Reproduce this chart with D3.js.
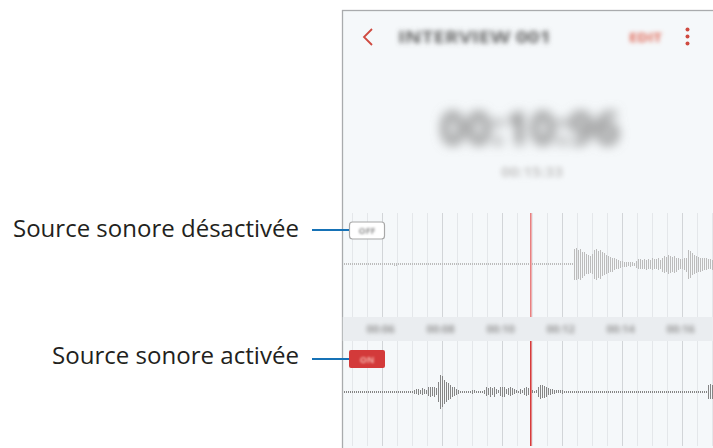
<!DOCTYPE html>
<meta charset="utf-8">
<style>
body { margin: 0; background: #fff; }
svg { display: block; font-family: "Open Sans", sans-serif; }
.callout { font-size: 24px; fill: #231f20; }
.grid line, .wave rect { shape-rendering: crispEdges; }
</style>
<body>
<script src="https://d3js.org/d3.v7.min.js"></script>
<script>
// screen texts (blurred in the original)
var title = "INTERVIEW 001";
var timer = "00:10:96";
var subTimer = "00:15:33";
var timeTicks = [6, 8, 10, 12, 14, 16];
var timeLabels = ["00:06", "00:08", "00:10", "00:12", "00:14", "00:16"];
var playhead = 10.97;
var callouts = ["Source sonore désactivée", "Source sonore activée"];

// waveform levels (0-100), one sample per 1/15 s
var offWave = [
  5,5,5,5,5,5,5,5,5,5, 5,5,5,5,5,5,5,5,5,5, 5,5,5,5,5,10,10,5,5,5,
  5,5,5,5,5,5,5,5,5,5, 5,5,5,5,5,5,5,5,5,5, 5,5,5,5,5,5,5,5,5,5,
  5,5,5,5,5,5,5,5,5,5, 5,5,5,5,5,5,5,5,5,5, 5,5,5,5,5,5,5,5,5,5,
  5,5,5,5,5,5,5,5,5,5, 5,5,5,5,5,5,5,5,5,5, 5,5,5,5,5,
  90,95,85,90,75,70,60,55,50,60, 85,90,80,85,70,65,55,50,45,40,
  35,30,25,20,18,15,15,12,15,12, 10,20,30,30,25,30,28,30,25,35,
  30,30,35,25,40,50,45,55,50,45, 50,40,35,30,30,35,40,85,80,65,
  55,50,45,40,38,35,35,30,30,28
];
var onWave = [
  5,5,5,5,5,5,5,5,5,5, 5,5,5,5,5,5,5,5,5,5, 5,5,5,5,5,5,5,5,5,5,
  5,5,5,5,5,12,15,18,12,20, 15,12,25,30,25,30,20,60,100,90,
  70,60,50,40,30,25,18,12,6,6, 6,6,6,6,12,8,6,6,6,6,
  12,25,20,30,22,28,15,8,25,30, 28,15,20,25,20,15,8,6,15,8,
  20,25,20,15,8,6,10,30,40,38, 35,28,22,18,15,12,10,10,8,12,
  5,5,5,5,5,5,5,5,5,5, 5,5,5,5,5,5,5,5,5,5, 5,5,5,5,5,5,5,5,5,5,
  5,5,5,5,5,5,5,5,5,5, 5,5,5,5,5,5,5,5,5,5, 5,5,5,5,5,5,5,5,5,5,
  5,5,5,5,5,5,5,5,5,5, 5,5,40,45,40
];

var width = 713, height = 448;
var panel = {left: 342.5, top: 10.5};

var svg = d3.select("body").append("svg")
  .attr("width", width)
  .attr("height", height);

var defs = svg.append("defs");
[["blur1", 1.2], ["blur2", 2], ["blur3", 2.4], ["blur5", 5.5]].forEach(function (b) {
  defs.append("filter").attr("id", b[0])
    .attr("x", "-20%").attr("y", "-60%").attr("width", "140%").attr("height", "220%")
    .append("feGaussianBlur").attr("stdDeviation", b[1]);
});
defs.append("clipPath").attr("id", "clip")
  .append("rect").attr("x", panel.left).attr("y", panel.top)
  .attr("width", width - panel.left).attr("height", height - panel.top);

// phone screen
svg.append("rect")
  .attr("x", panel.left).attr("y", panel.top)
  .attr("width", width - panel.left + 5).attr("height", height - panel.top + 5)
  .attr("fill", "#f5f8fa")
  .attr("stroke", "#a9abad")
  .attr("stroke-width", 1.3);

var screen = svg.append("g").attr("clip-path", "url(#clip)");

// header
screen.append("path")
  .attr("d", d3.line()([[372, 29], [364, 37], [372, 45]]))
  .attr("fill", "none").attr("stroke", "#cf4a40").attr("stroke-width", 1.8);

screen.append("text")
  .attr("x", 398).attr("y", 43)
  .attr("textLength", 153).attr("lengthAdjust", "spacingAndGlyphs")
  .style("font-size", "16px").style("font-weight", "bold")
  .attr("fill", "#666").attr("filter", "url(#blur3)")
  .text(title);

screen.append("text")
  .attr("x", 629).attr("y", 42)
  .attr("textLength", 33).attr("lengthAdjust", "spacingAndGlyphs")
  .style("font-size", "13px").style("font-weight", "bold")
  .attr("fill", "#e06a58").attr("filter", "url(#blur2)")
  .text("EDIT");

screen.selectAll(".kebab")
  .data([29.5, 36.5, 43.5])
  .enter().append("circle")
  .attr("class", "kebab")
  .attr("cx", 687.5).attr("cy", function (d) { return d; })
  .attr("r", 2).attr("fill", "#cf4a40");

// timer
screen.append("text")
  .attr("x", 530).attr("y", 145)
  .attr("text-anchor", "middle")
  .attr("textLength", 180).attr("lengthAdjust", "spacingAndGlyphs")
  .style("font-size", "46px").style("font-weight", "bold")
  .attr("fill", "#888").attr("filter", "url(#blur5)")
  .text(timer);

screen.append("text")
  .attr("x", 532).attr("y", 177)
  .attr("text-anchor", "middle")
  .attr("textLength", 62).attr("lengthAdjust", "spacingAndGlyphs")
  .style("font-size", "14px").style("font-weight", "bold")
  .attr("fill", "#c8c8c8").attr("filter", "url(#blur3)")
  .text(subTimer);

// time scale: 30 px per second
var x = d3.scaleLinear().domain([6, 16]).range([381.7, 681.7]);
var amp = d3.scaleLinear().domain([0, 100]).range([0, 17]);
var t0 = x.invert(344);
var minorTicks = d3.range(4.5, 17.01, 0.5);

var tracks = [
  {y0: 213, y1: 317, base: 264.3, wave: offWave, color: "#bcbcbc", play: "#e88080"},
  {y0: 341, y1: 446, base: 391.7, wave: onWave, color: "#858585", play: "#d63b3b"}
];

// time label band
screen.append("rect")
  .attr("x", panel.left).attr("y", 317)
  .attr("width", width - panel.left).attr("height", 24)
  .attr("fill", "#eaedf0");

screen.selectAll(".tlabel")
  .data(timeTicks)
  .enter().append("text")
  .attr("class", "tlabel")
  .attr("x", function (d) { return x(d) - 1; })
  .attr("y", 333)
  .attr("text-anchor", "middle")
  .style("font-size", "11px").style("font-weight", "bold")
  .attr("fill", "#999").attr("filter", "url(#blur2)")
  .text(function (d, i) { return timeLabels[i]; });

tracks.forEach(function (tr) {
  var g = screen.append("g").attr("class", "grid");
  g.selectAll("line")
    .data(minorTicks)
    .enter().append("line")
    .attr("x1", function (d) { return Math.round(x(d)) + 0.5; })
    .attr("x2", function (d) { return Math.round(x(d)) + 0.5; })
    .attr("y1", tr.y0).attr("y2", tr.y1)
    .attr("stroke", function (d) { return d % 2 === 0 ? "#d2d5d8" : "#e4e7ea"; });

  screen.append("g").attr("class", "wave").selectAll("rect")
    .data(tr.wave)
    .enter().append("rect")
    .attr("x", function (d, i) { return Math.round(x(t0 + i / 15)); })
    .attr("y", function (d) { return Math.round(tr.base - amp(d)); })
    .attr("width", 1)
    .attr("height", function (d) { return Math.max(1, Math.round(2 * amp(d))); })
    .attr("fill", tr.color);

  screen.append("line")
    .attr("x1", x(playhead)).attr("x2", x(playhead))
    .attr("y1", tr.y0).attr("y2", tr.y1)
    .attr("stroke", tr.play).attr("stroke-width", 1.6);
});

// OFF / ON buttons
screen.append("rect")
  .attr("x", 349.5).attr("y", 222).attr("width", 35).attr("height", 17).attr("rx", 3)
  .attr("fill", "#fff").attr("stroke", "#a8a8a8").attr("stroke-width", 1.2);
screen.append("text")
  .attr("x", 367).attr("y", 234).attr("text-anchor", "middle")
  .style("font-size", "9px").style("font-weight", "bold")
  .attr("fill", "#9a9a9a").attr("filter", "url(#blur1)")
  .text("OFF");

screen.append("rect")
  .attr("x", 349).attr("y", 350).attr("width", 36).attr("height", 18).attr("rx", 2)
  .attr("fill", "#d33a3a");
screen.append("text")
  .attr("x", 367).attr("y", 362.5).attr("text-anchor", "middle")
  .style("font-size", "9px").style("font-weight", "bold")
  .attr("fill", "#f4b0a8").attr("filter", "url(#blur1)")
  .text("ON");

// callouts
var calloutY = [230, 359];
var calloutBase = [237, 364];
var calloutLen = [286, 247];

svg.selectAll(".lead")
  .data(calloutY)
  .enter().append("line")
  .attr("class", "lead")
  .attr("x1", 312).attr("x2", 349)
  .attr("y1", function (d) { return d; }).attr("y2", function (d) { return d; })
  .attr("stroke", "#1672b6").attr("stroke-width", 2.2);

svg.selectAll(".callout")
  .data(callouts)
  .enter().append("text")
  .attr("class", "callout")
  .attr("x", 299)
  .attr("y", function (d, i) { return calloutBase[i]; })
  .attr("text-anchor", "end")
  .attr("textLength", function (d, i) { return calloutLen[i]; })
  .attr("lengthAdjust", "spacingAndGlyphs")
  .text(function (d) { return d; });
</script>
</body>
